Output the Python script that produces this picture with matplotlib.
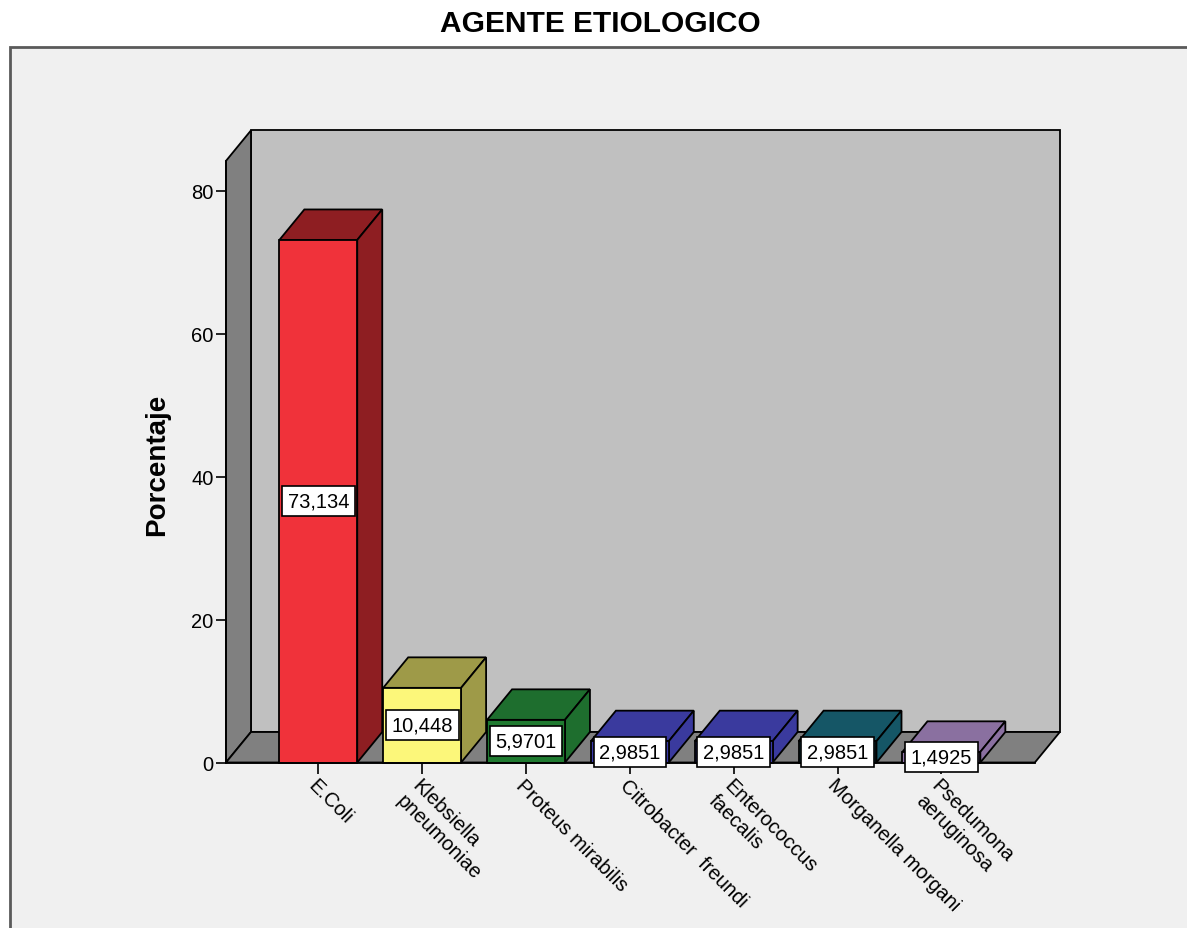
import matplotlib
matplotlib.use("Agg")
import matplotlib.pyplot as plt
from matplotlib.patches import Polygon, Rectangle

plt.rcParams['font.family'] = ['Liberation Sans', 'DejaVu Sans']

# Data
categories = ["E.Coli", "Klebsiella\npneumoniae", "Proteus mirabilis",
              "Citrobacter  freundi", "Enterococcus\nfaecalis",
              "Morganella morgani", "Psedumona\naeruginosa"]
percentages = [73.134, 10.448, 5.9701, 2.9851, 2.9851, 2.9851, 1.4925]
yticks = [0, 20, 40, 60, 80]

front_colors = ['#F0323A', '#FCF77A', '#1F7A30', '#3A3AAA', '#3A3AAA', '#175E70', '#977BAE']
shade_colors = ['#8E1E22', '#9E9A48', '#1E6E2E', '#3A3A9E', '#3A3A9E', '#155666', '#8A70A0']

W, H = 1187, 929
fig = plt.figure(figsize=(W / 100, H / 100), dpi=100)
fig.patch.set_facecolor('white')

# Outer panel
fig.patches.append(Rectangle((10 / W, -0.05), 1.1, 1 - 48 / H + 0.05,
                             transform=fig.transFigure, facecolor='#F0F0F0',
                             edgecolor='#5A5A5A', linewidth=2, zorder=-10))

# Pixel layout of the plotting area
X0, SX = 318.3, 103.85   # pixel of category 0, pixels per category
Y0, SY = 763.5, 7.145    # pixel of 0 %, pixels per percent
L, R, T, B = 100, 1150, 60, 900
ax = fig.add_axes([L / W, 1 - B / H, (R - L) / W, (B - T) / H])
ax.set_zorder(1)
ax.set_xlim((L - X0) / SX, (R - X0) / SX)
ax.set_ylim((Y0 - B) / SY, (Y0 - T) / SY)
ax.patch.set_visible(False)

DX, DY = 25 / SX, 30.5 / SY   # depth offset
XL, XR, YT = -0.889, 6.90, 84.2
bw = 0.75
edge = dict(edgecolor='black', linewidth=1.3)

# Back wall, left wall, floor
ax.add_patch(Polygon([(XL + DX, DY), (XR + DX, DY), (XR + DX, YT + DY), (XL + DX, YT + DY)],
                     facecolor='#C0C0C0', zorder=1, **edge))
ax.add_patch(Polygon([(XL, 0), (XL, YT), (XL + DX, YT + DY), (XL + DX, DY)],
                     facecolor='#808080', zorder=1, **edge))
ax.add_patch(Polygon([(XL, 0), (XR, 0), (XR + DX, DY), (XL + DX, DY)],
                     facecolor='#808080', zorder=1, **edge))

# Bars: front faces plus top and side faces
xs = list(range(len(categories)))
ax.bar(xs, percentages, width=bw, color=front_colors, zorder=3, **edge)
for x, v, c in zip(xs, percentages, shade_colors):
    x1, x2 = x - bw / 2, x + bw / 2
    ax.add_patch(Polygon([(x1, v), (x2, v), (x2 + DX, v + DY), (x1 + DX, v + DY)],
                         facecolor=c, zorder=2, **edge))
    ax.add_patch(Polygon([(x2, 0), (x2 + DX, DY), (x2 + DX, v + DY), (x2, v)],
                         facecolor=c, zorder=2, **edge))

# Value labels
for x, v in zip(xs, percentages):
    ax.text(x, v / 2, f"{v:.5g}".replace('.', ','), ha='center', va='center',
            fontsize=14.5, zorder=5,
            bbox=dict(boxstyle='square,pad=0.28', facecolor='white',
                      edgecolor='black', linewidth=1.2))

# Axes lines and ticks
for s in ['top', 'right']:
    ax.spines[s].set_visible(False)
ax.spines['left'].set_position(('data', XL))
ax.spines['left'].set_bounds(0, YT)
ax.spines['bottom'].set_position(('data', 0))
ax.spines['bottom'].set_bounds(XL, XR)
for s in ['left', 'bottom']:
    ax.spines[s].set_linewidth(1.3)
    ax.spines[s].set_zorder(4)

ax.set_yticks(yticks)
ax.set_yticklabels([str(t) for t in yticks])
ax.tick_params(axis='y', length=7.5, width=1.2, pad=1.5, labelsize=14.5)
ax.set_xticks(xs)
ax.set_xticklabels(categories, rotation=-45, ha='left', va='top',
                   rotation_mode='anchor', fontsize=14.5)
for lbl in ax.get_xticklabels():
    lbl.set_multialignment('left')
ax.tick_params(axis='x', length=8, width=1.2, pad=1)

fig.text(157 / W, 1 - 465 / H, "Porcentaje", rotation=90, ha='center', va='center',
         fontsize=20, fontweight='bold')
fig.text(600 / W, 1 - 24 / H, "AGENTE ETIOLOGICO", ha='center', va='center',
         fontsize=21.5, fontweight='bold')

fig.savefig("out.png", dpi=100)
